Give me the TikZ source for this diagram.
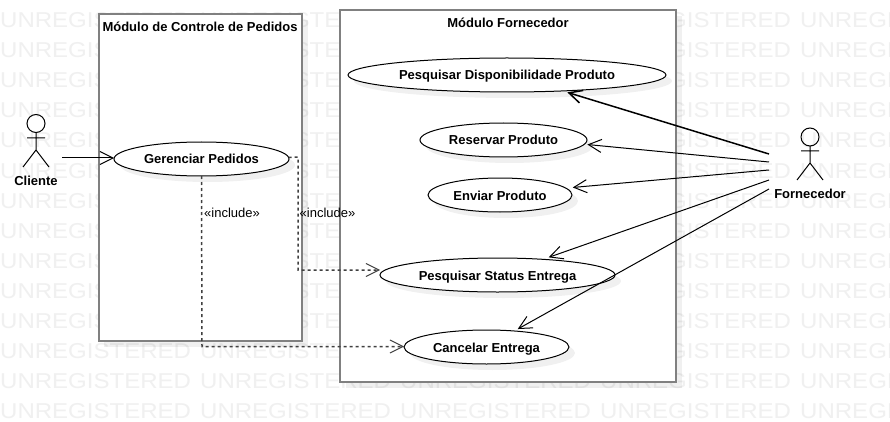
\documentclass[tikz,border=0pt]{standalone}
\usepackage{graphicx}
\usepackage{fontspec}
\setmainfont{Liberation Sans}
\usetikzlibrary{arrows.meta,shapes.geometric}
\tikzset{
  x=1pt,y=-1pt,
  watermark/.style={anchor=base west,inner sep=0pt,text=wmgray,font=\fontsize{21.5}{24}\selectfont},
  systembox/.style={draw=boxgray,line width=2pt,fill=white},
  boxshadow/.style={fill=black,fill opacity=.06,draw=none},
  usecase/.style={ellipse,draw=black,line width=1pt,fill=white,inner sep=0pt,outer sep=0pt,minimum height=34pt,text height=10pt,text depth=0pt,font=\fontsize{13}{15}\selectfont\bfseries},
  caseshadow/.style={ellipse,fill=black,fill opacity=.06,draw=none,inner sep=0pt,outer sep=0pt,minimum height=34pt},
  titletext/.style={inner sep=0pt,font=\fontsize{13}{15}\selectfont\bfseries},
  actorlabel/.style={inner sep=0pt,font=\fontsize{13}{15}\selectfont\bfseries},
  includetext/.style={inner sep=0pt,font=\fontsize{13}{15}\selectfont},
  stick/.style={draw=black,line width=1pt},
  assoc/.style={draw=black,line width=1pt,-{Straight Barb[length=13pt,width=13pt]}},
  dep/.style={draw=black!75,line width=1.5pt,dash pattern=on 3pt off 3pt,-{Straight Barb[length=13pt,width=13pt,line width=1pt]}},
}
\definecolor{wmgray}{HTML}{F0F0F0}
\definecolor{boxgray}{HTML}{808080}
\begin{document}
\begin{tikzpicture}
\useasboundingbox (0,0) rectangle (890,422);
\fill[white] (0,0) rectangle (890,422);
\begin{scope}
\clip (0,0) rectangle (890,422);
\foreach \r in {28,58,...,418}
  \foreach \c in {0,200,400,600,800}
    \node[watermark] at (\c,\r) {\scalebox{1.117}[1]{UNREGISTERED}};
\end{scope}
% system boxes
\fill[boxshadow] (104,20) rectangle (308,347);
\fill[boxshadow] (346,16) rectangle (682,388);
\draw[systembox] (98.5,14) rectangle (302,341);
\draw[systembox] (340,10) rectangle (676,381.5);
\node[titletext] (ttl1) at (200,27) {Módulo de Controle de Pedidos};
\node[titletext] (ttl2) at (508,23) {Módulo Fornecedor};
% shadows of use cases
\node[caseshadow,minimum width=175pt] at (207.5,165) {};
\node[caseshadow,minimum width=318pt] at (513,81) {};
\node[caseshadow,minimum width=167pt] at (509.5,146) {};
\node[caseshadow,minimum width=144pt] at (506,201) {};
\node[caseshadow,minimum width=235pt] at (503.5,281) {};
\node[caseshadow,minimum width=165pt] at (492.5,353) {};
% use cases
\node[usecase,minimum width=175pt] (gp) at (201.5,159) {Gerenciar Pedidos};
\node[usecase,minimum width=318pt] (disp) at (507,75) {Pesquisar Disponibilidade Produto};
\node[usecase,minimum width=167pt] (res) at (503.5,140) {Reservar Produto};
\node[usecase,minimum width=144pt] (env) at (500,195) {Enviar Produto};
\node[usecase,minimum width=235pt] (stat) at (497.5,275) {Pesquisar Status Entrega};
\node[usecase,minimum width=165pt] (canc) at (486.5,347) {Cancelar Entrega};
% actors
\draw[stick] (36,123.5) circle (9pt);
\draw[stick] (36,132.5) -- (36,150) (27,138) -- (45,138) (23,167) -- (36,150) -- (49,167);
\node[actorlabel] (cliente) at (36,180.5) {Cliente};
\draw[stick] (810,137) circle (9pt);
\draw[stick] (810,146) -- (810,163) (801,151) -- (819,151) (797,180) -- (810,163) -- (823,180);
\node[actorlabel] (forn) at (810,194) {Fornecedor};
% connector ends
\coordinate (cl) at (62,158);
\coordinate (f1) at (769,154);
\coordinate (f2) at (769,162);
\coordinate (f3) at (769,170);
\coordinate (f4) at (769,180);
\coordinate (f5) at (769,189);
\coordinate (c1) at (298,157);
\coordinate (c2) at (298,270);
\coordinate (c3) at (202,346.5);
% associations
\draw[assoc] (cl) -- (gp.west |- cl);
\draw[assoc,line width=1.5pt,shorten >=5pt] (f1) -- (disp.-16.4);
\draw[assoc,shorten >=3pt] (f2) -- (res.-3.35);
\draw[assoc,shorten >=7pt] (f3) -- (env.6.5);
\draw[assoc,shorten >=6pt] (f4) -- (stat.19);
\draw[assoc,shorten >=4pt] (f5) -- (canc.30.6);
% dependencies
\draw[dep] (gp.1.5) -- (c1) -- (c2) -- (c2 -| stat.west);
\draw[dep] (gp.south) -- (c3) -- (c3 -| canc.west);
\node[includetext] (inc1) at (232,212.5) {«include»};
\node[includetext] (inc2) at (327.5,212.5) {«include»};
\end{tikzpicture}
\end{document}
